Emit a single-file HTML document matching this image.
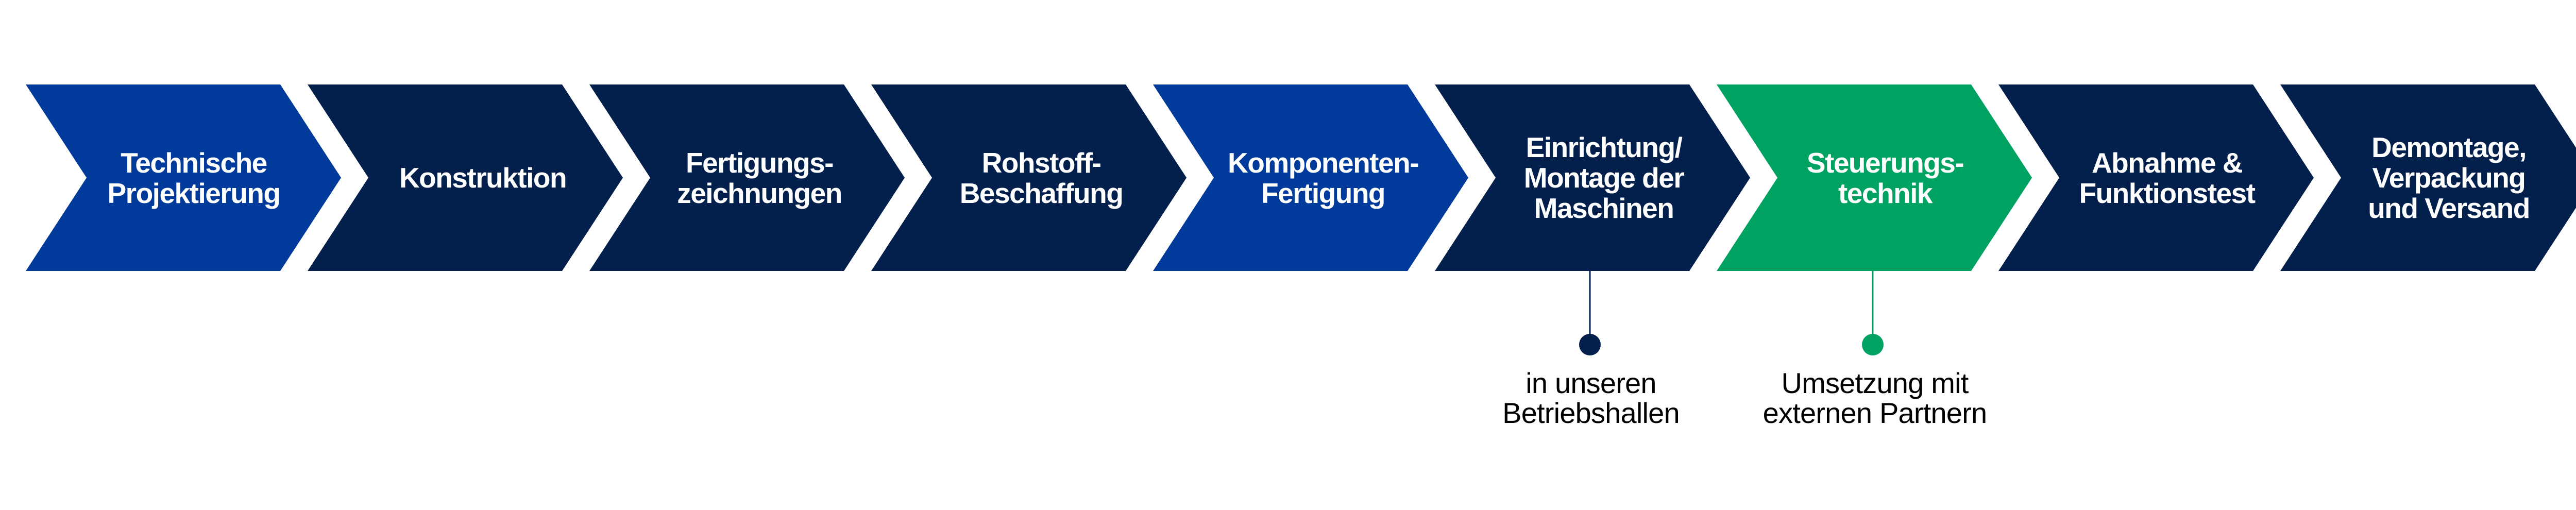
<!DOCTYPE html>
<html><head><meta charset="utf-8"><style>
html,body{margin:0;padding:0;background:#fff;overflow:hidden;width:5100px;height:990px}
svg{display:block}
.t{font-family:"Liberation Sans",Arial,sans-serif;font-weight:bold;font-size:55px;fill:#fff;text-anchor:middle;letter-spacing:-1.5px}
.s{font-family:"Liberation Sans",Arial,sans-serif;font-size:56px;fill:#000;text-anchor:middle;letter-spacing:-0.8px}
</style></head><body>
<svg width="5100" height="990" viewBox="0 0 5100 990" xmlns="http://www.w3.org/2000/svg">
<defs><path id="c" d="M0,164 H494 L612,345 L494,526 H0 L118,345 Z"/></defs>
<use href="#c" x="50" fill="#003a9b"/>
<use href="#c" x="597" fill="#03204c"/>
<use href="#c" x="1144" fill="#03204c"/>
<use href="#c" x="1691" fill="#03204c"/>
<use href="#c" x="2238" fill="#003a9b"/>
<use href="#c" x="2785" fill="#03204c"/>
<use href="#c" x="3332" fill="#00a262"/>
<use href="#c" x="3879" fill="#03204c"/>
<use href="#c" x="4426" fill="#03204c"/>

<text class="t" x="376" y="335">Technische</text>
<text class="t" x="376" y="394">Projektierung</text>
<text class="t" x="937" y="364">Konstruktion</text>
<text class="t" x="1474" y="335">Fertigungs-</text>
<text class="t" x="1474" y="394">zeichnungen</text>
<text class="t" x="2021" y="335">Rohstoff-</text>
<text class="t" x="2021" y="394">Beschaffung</text>
<text class="t" x="2568" y="335">Komponenten-</text>
<text class="t" x="2568" y="394">Fertigung</text>
<text class="t" x="3113" y="305">Einrichtung/</text>
<text class="t" x="3113" y="364">Montage der</text>
<text class="t" x="3113" y="423">Maschinen</text>
<text class="t" x="3659" y="335">Steuerungs-</text>
<text class="t" x="3659" y="394">technik</text>
<text class="t" x="4206" y="335">Abnahme &amp;</text>
<text class="t" x="4206" y="394">Funktionstest</text>
<text class="t" x="4753" y="305">Demontage,</text>
<text class="t" x="4753" y="364">Verpackung</text>
<text class="t" x="4753" y="423">und Versand</text>

<line x1="3086" y1="526" x2="3086" y2="669" stroke="#03204c" stroke-width="3"/>
<circle cx="3086" cy="669" r="21" fill="#03204c"/>
<line x1="3635" y1="526" x2="3635" y2="669" stroke="#00a262" stroke-width="3"/>
<circle cx="3635" cy="669" r="21" fill="#00a262"/>
<text class="s" x="3088" y="763">in unseren</text>
<text class="s" x="3088" y="821">Betriebshallen</text>
<text class="s" x="3639" y="763">Umsetzung mit</text>
<text class="s" x="3639" y="821">externen Partnern</text>
</svg>
</body></html>
